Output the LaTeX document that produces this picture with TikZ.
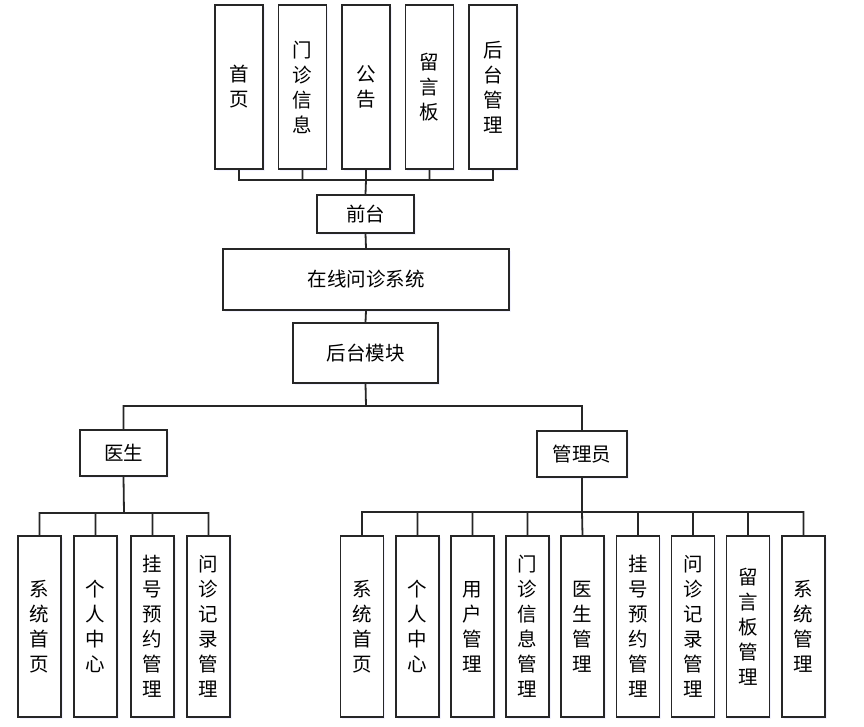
\documentclass[tikz,border=0pt]{standalone}
\usepackage{fontspec}
\setmainfont{Noto Sans CJK SC}
\usetikzlibrary{
    positioning,
    shadows
}
\tikzset{
    box/.style={draw=black!85, line width=1.4pt, fill=white, inner sep=0pt, align=center,
        font=\fontsize{19.5}{25}\selectfont,
        drop shadow={shadow xshift=1.5pt, shadow yshift=-1.5pt, fill=blue!20, opacity=0.25}},
    topleaf/.style={box, minimum width=48, minimum height=164},
    leaf/.style={box, minimum width=43, minimum height=181},
    link/.style={draw=black!85, line width=1.8pt}
}

\begin{document}
\begin{tikzpicture}[x=1pt, y=-1pt]
                        \useasboundingbox (0,0) rectangle (864,726);

                        % front end pages
                        \node[topleaf] (t1) at (239, 87) {首\\页};
                        \node[topleaf] (t2) at (302.5, 87) {门\\诊\\信\\息};
                        \node[topleaf] (t3) at (366, 87) {公\\告};
                        \node[topleaf] (t4) at (429.5, 87) {留\\言\\板};
                        \node[topleaf] (t5) at (493, 87) {后\\台\\管\\理};

                        \node[box, minimum width=97, minimum height=38] (qt) at (365.5, 214) {前台};
                        \node[box, minimum width=286, minimum height=61] (sys) at (366, 279.5) {在线问诊系统};
                        \node[box, minimum width=145, minimum height=60] (ht) at (365.5, 353) {后台模块};

                        \node[box, minimum width=87, minimum height=46] (doc) at (123.5, 453) {医生};
                        \node[box, minimum width=90, minimum height=46] (adm) at (582, 454) {管理员};

                        % doctor modules
                        \node[leaf] (d1) at (39.5, 626.5) {系\\统\\首\\页};
                        \node[leaf] (d2) at (95.5, 626.5) {个\\人\\中\\心};
                        \node[leaf] (d3) at (152.5, 626.5) {挂\\号\\预\\约\\管\\理};
                        \node[leaf] (d4) at (208.5, 626.5) {问\\诊\\记\\录\\管\\理};

                        % admin modules
                        \node[leaf] (a1) at (362, 626.5) {系\\统\\首\\页};
                        \node[leaf] (a2) at (417.5, 626.5) {个\\人\\中\\心};
                        \node[leaf] (a3) at (472.5, 626.5) {用\\户\\管\\理};
                        \node[leaf] (a4) at (527.5, 626.5) {门\\诊\\信\\息\\管\\理};
                        \node[leaf] (a5) at (582.5, 626.5) {医\\生\\管\\理};
                        \node[leaf] (a6) at (638, 626.5) {挂\\号\\预\\约\\管\\理};
                        \node[leaf] (a7) at (693, 626.5) {问\\诊\\记\\录\\管\\理};
                        \node[leaf] (a8) at (748, 626.5) {留\\言\\板\\管\\理};
                        \node[leaf] (a9) at (803.5, 626.5) {系\\统\\管\\理};

                        \coordinate (tbus) at (366, 180);
                        \coordinate (mbus) at (366, 406);
                        \coordinate (dbus) at (124, 513);
                        \coordinate (abus) at (582, 512);

                        \draw[link]
                        (qt.north) -- (tbus)
                        (tbus) -| (t1.south)
                        (tbus) -| (t2.south)
                        (tbus) -- (t3.south)
                        (tbus) -| (t4.south)
                        (tbus) -| (t5.south)
                        (qt.south) -- (sys.north)
                        (sys.south) -- (ht.north)
                        (ht.south) -- (mbus)
                        (mbus) -| (doc.north)
                        (mbus) -| (adm.north)
                        (doc.south) -- (dbus)
                        (dbus) -| (d1.north)
                        (dbus) -| (d2.north)
                        (dbus) -| (d3.north)
                        (dbus) -| (d4.north)
                        (adm.south) -- (abus)
                        (abus) -| (a1.north)
                        (abus) -| (a2.north)
                        (abus) -| (a3.north)
                        (abus) -| (a4.north)
                        (abus) -- (a5.north)
                        (abus) -| (a6.north)
                        (abus) -| (a7.north)
                        (abus) -| (a8.north)
                        (abus) -| (a9.north);
                    \end{tikzpicture}
\end{document}
